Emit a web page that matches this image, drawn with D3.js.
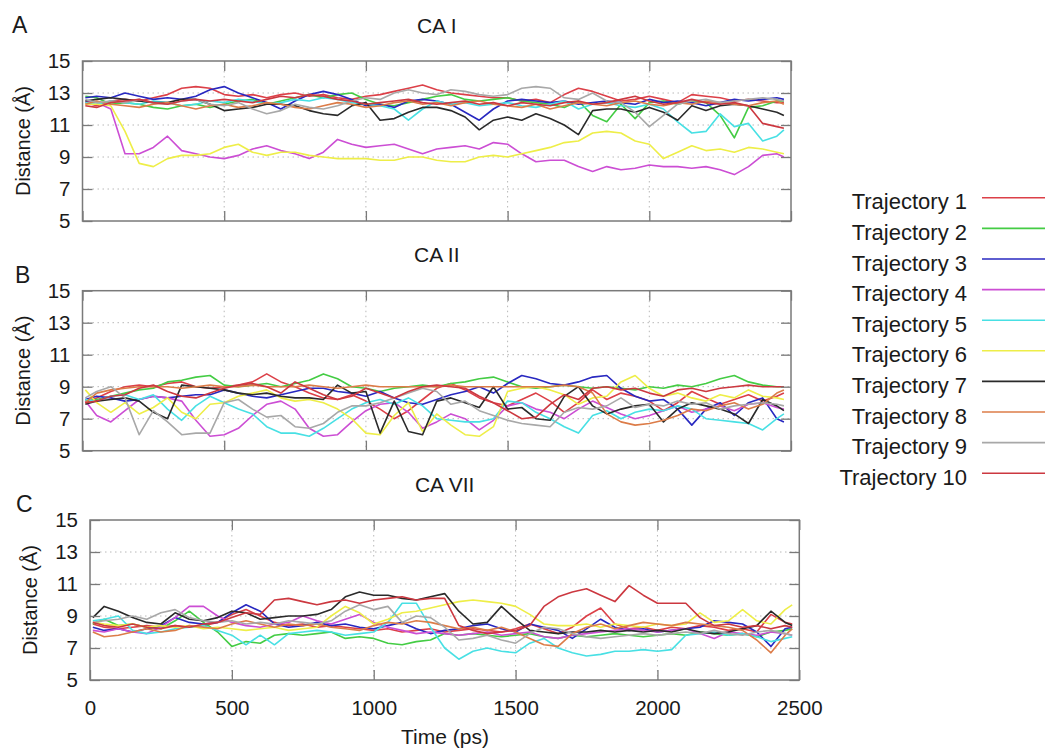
<!DOCTYPE html>
<html>
<head>
<meta charset="utf-8">
<script src="https://cdn.jsdelivr.net/npm/d3@7"></script>
<style>
  body { margin: 0; background: #fff; }
  text { font-family: "Liberation Sans", Arial, Helvetica, sans-serif; fill: #1a1a1a; }
</style>
</head>
<body>
<div id="graph-container"></div>
<script>
// Time points (ps)
var time = [10, 50, 100, 150, 200, 250, 300, 350, 400, 450,
  500, 550, 600, 650, 700, 750, 800, 850, 900, 950,
  1000, 1050, 1100, 1150, 1200, 1250, 1300, 1350, 1400, 1450,
  1500, 1550, 1600, 1650, 1700, 1750, 1800, 1850, 1900, 1950,
  2000, 2050, 2100, 2150, 2200, 2250, 2300, 2350, 2400, 2450,
  2475];

var trajectories = ["Trajectory 1", "Trajectory 2", "Trajectory 3", "Trajectory 4", "Trajectory 5",
  "Trajectory 6", "Trajectory 7", "Trajectory 8", "Trajectory 9", "Trajectory 10"];

var yTicks = [5, 7, 9, 11, 13, 15];
var xTicks = [0, 500, 1000, 1500, 2000, 2500];

// CA I distances
var caI_1 = [12.4, 12.2, 12.5, 12.6, 12.5, 12.7, 12.9, 13.3, 13.4, 13.3,
  12.9, 12.8, 12.9, 12.7, 12.9, 13.0, 12.8, 12.9, 12.7, 12.6,
  12.8, 12.9, 13.1, 13.3, 13.5, 13.2, 13.0, 12.9, 12.8, 12.7,
  12.7, 12.5, 12.6, 12.4, 12.9, 13.3, 13.1, 12.8, 12.5, 12.6,
  12.8, 12.6, 12.4, 12.9, 12.8, 12.7, 12.5, 12.6, 12.5, 12.4,
  12.4];
var caI_2 = [12.8, 12.7, 12.3, 12.4, 12.3, 12.1, 12.0, 12.2, 12.3, 12.1,
  12.3, 12.5, 12.6, 12.3, 12.5, 12.7, 12.9, 12.7, 12.9, 13.0,
  12.6, 12.3, 12.2, 12.4, 12.6, 12.8, 12.9, 12.6, 12.5, 12.6,
  12.7, 12.5, 12.4, 12.3, 12.1, 12.5, 11.6, 11.2, 12.3, 11.4,
  12.4, 12.5, 12.3, 12.5, 12.4, 11.6, 10.2, 12.1, 12.2, 12.5,
  12.5];
var caI_3 = [12.7, 12.8, 12.7, 13.0, 12.8, 12.6, 12.7, 12.6, 12.8, 13.2,
  13.4, 13.0, 12.7, 12.4, 12.0, 12.5, 12.9, 13.1, 12.9, 12.6,
  12.2, 12.3, 12.1, 12.5, 12.6, 12.5, 12.3, 11.8, 11.3, 12.0,
  12.5, 12.6, 12.5, 12.4, 12.5, 12.3, 12.4, 12.5, 12.4, 12.3,
  12.6, 12.4, 12.5, 12.4, 12.2, 12.4, 12.6, 12.5, 12.6, 12.7,
  12.6];
var caI_4 = [12.5, 12.4, 12.0, 9.2, 9.2, 9.6, 10.3, 9.4, 9.2, 9.0,
  8.9, 9.1, 9.5, 9.7, 9.4, 9.2, 8.9, 9.3, 10.1, 9.8,
  9.6, 9.7, 9.8, 9.5, 9.2, 9.5, 9.6, 9.7, 9.5, 9.9,
  9.8, 9.2, 8.7, 8.8, 8.8, 8.4, 8.1, 8.4, 8.2, 8.3,
  8.5, 8.4, 8.4, 8.3, 8.4, 8.2, 7.9, 8.4, 9.1, 9.2,
  9.0];
var caI_5 = [12.4, 12.3, 12.5, 12.4, 12.3, 12.5, 12.4, 12.2, 12.3, 12.5,
  12.4, 12.6, 12.5, 12.3, 12.4, 12.6, 12.5, 12.7, 12.6, 12.4,
  12.3, 12.2, 12.0, 11.3, 12.0, 12.5, 12.3, 12.4, 12.2, 12.3,
  12.4, 12.2, 12.1, 12.3, 12.5, 12.0, 12.3, 12.4, 12.2, 12.1,
  12.3, 12.0, 11.2, 10.5, 10.6, 11.7, 10.9, 11.1, 10.0, 10.3,
  10.7];
var caI_6 = [12.3, 12.3, 12.2, 10.6, 8.6, 8.4, 8.9, 9.1, 9.1, 9.2,
  9.6, 9.8, 9.3, 9.1, 9.3, 9.3, 9.1, 9.0, 8.9, 8.9,
  8.9, 8.8, 8.8, 9.0, 9.0, 8.8, 8.7, 8.7, 9.0, 9.1,
  9.0, 9.2, 9.4, 9.6, 9.9, 10.0, 10.5, 10.6, 10.5, 10.0,
  9.8, 8.9, 9.3, 9.7, 9.4, 9.5, 9.3, 9.6, 9.5, 9.3,
  9.2];
var caI_7 = [12.5, 12.6, 12.7, 12.6, 12.5, 12.4, 12.4, 12.6, 12.6, 12.3,
  11.9, 12.0, 12.1, 12.3, 12.3, 12.2, 11.9, 11.7, 11.6, 12.2,
  12.4, 11.3, 11.4, 11.8, 12.1, 12.1, 11.9, 11.5, 10.7, 11.3,
  11.5, 11.3, 11.7, 11.4, 11.0, 10.4, 11.9, 12.0, 12.0, 11.8,
  12.1, 11.8, 11.3, 12.2, 11.9, 12.2, 12.3, 12.2, 12.0, 11.8,
  11.6];
var caI_8 = [12.3, 12.5, 12.3, 12.2, 12.1, 12.3, 12.4, 12.2, 12.0, 12.2,
  12.3, 12.1, 12.2, 12.4, 12.3, 12.1, 12.0, 12.2, 12.4, 12.3,
  12.1, 12.2, 12.4, 12.5, 12.3, 12.4, 12.2, 12.4, 12.5, 12.3,
  12.2, 12.1, 12.3, 12.0, 12.2, 12.4, 12.3, 12.2, 12.4, 12.5,
  12.3, 12.2, 12.4, 12.3, 12.5, 12.4, 12.3, 12.2, 12.4, 12.5,
  12.3];
var caI_9 = [12.6, 12.4, 12.5, 12.4, 12.6, 12.4, 12.3, 12.5, 12.6, 12.3,
  12.2, 12.4, 12.0, 11.7, 11.9, 12.3, 12.1, 12.0, 12.2, 12.5,
  12.7, 12.6, 13.0, 13.2, 13.0, 12.9, 13.2, 13.1, 12.9, 12.8,
  12.9, 13.3, 13.4, 13.3, 12.7, 12.6, 13.0, 12.5, 12.4, 11.8,
  10.9, 11.6, 12.3, 12.5, 12.6, 12.4, 12.5, 12.6, 12.7, 12.6,
  12.5];
var caI_10 = [12.2, 12.1, 12.4, 12.5, 12.6, 12.4, 12.3, 12.5, 12.6, 12.5,
  12.6, 12.5, 12.4, 12.6, 12.8, 12.7, 12.9, 12.8, 12.6, 12.5,
  12.3, 12.4, 12.5, 12.6, 12.4, 12.3, 12.4, 12.5, 12.3, 12.4,
  12.2, 12.4, 12.3, 12.2, 12.4, 12.5, 12.3, 12.4, 12.6, 12.8,
  12.5, 12.3, 12.4, 12.6, 12.4, 12.3, 12.4, 12.2, 11.1, 10.9,
  10.8];

// CA II distances
var caII_1 = [8.0, 8.3, 8.7, 9.0, 9.1, 9.0, 9.2, 9.3, 9.0, 8.9,
  9.0, 9.1, 9.3, 9.8, 9.3, 9.0, 8.6, 8.3, 8.2, 8.5,
  8.1, 7.6, 7.0, 7.5, 8.2, 8.9, 9.2, 8.8, 8.3, 8.0,
  7.8, 8.2, 8.6, 8.1, 7.4, 8.0, 8.8, 8.2, 8.6, 8.4,
  8.1, 7.5, 8.0, 8.7, 8.3, 7.9, 8.2, 8.5, 8.1, 8.4,
  8.6];
var caII_2 = [8.1, 8.2, 8.4, 8.6, 8.8, 8.9, 9.3, 9.4, 9.6, 9.7,
  9.1, 9.0, 9.1, 9.2, 9.0, 9.2, 9.4, 9.8, 9.5, 9.0,
  8.9, 8.7, 8.9, 9.0, 9.1, 9.0, 9.2, 9.3, 9.5, 9.6,
  9.3, 9.0, 8.9, 9.0, 9.1, 9.0, 8.9, 9.0, 8.9, 8.8,
  9.0, 8.9, 9.1, 9.0, 9.2, 9.5, 9.7, 9.3, 9.1, 9.0,
  9.0];
var caII_3 = [8.2, 8.4, 8.3, 8.1, 8.2, 8.4, 8.3, 8.4, 8.5, 8.5,
  8.8, 8.6, 8.4, 8.3, 8.5, 8.7, 8.9, 8.9, 8.7, 8.6,
  8.4, 8.7, 8.3, 8.0, 7.9, 8.2, 8.5, 8.7, 9.0, 8.6,
  9.2, 9.7, 9.5, 9.2, 9.1, 9.3, 9.6, 9.7, 8.9, 8.4,
  8.1, 8.2, 7.6, 6.6, 7.6, 8.0, 7.2, 8.0, 8.3, 7.0,
  6.8];
var caII_4 = [8.1, 7.2, 6.8, 7.5, 8.2, 8.4, 8.3, 8.1, 6.9, 5.9,
  6.0, 6.4, 7.2, 7.9, 8.1, 7.6, 6.4, 5.9, 6.0, 6.8,
  7.5, 7.9, 8.0, 7.4, 6.4, 6.8, 7.3, 7.0, 6.3, 6.9,
  7.8, 8.0, 7.6, 7.4, 7.0, 7.6, 8.1, 7.7, 7.3, 7.0,
  7.2, 7.5, 7.8, 7.4, 7.6, 7.8, 7.5, 7.9, 8.0, 7.7,
  7.6];
var caII_5 = [8.2, 8.1, 8.4, 8.5, 8.2, 8.5, 7.6, 6.9, 7.8, 8.4,
  8.0, 7.6, 7.3, 6.5, 6.1, 6.1, 5.9, 6.4, 7.0, 7.6,
  8.0, 8.2, 7.9, 8.3, 7.8, 7.0, 6.9, 6.8, 6.8, 7.0,
  8.1, 8.0, 7.4, 7.0, 6.5, 6.1, 7.2, 7.5, 7.0, 7.4,
  7.6, 7.5, 7.8, 7.6, 7.0, 6.9, 6.8, 6.7, 6.3, 7.0,
  7.3];
var caII_6 = [8.8, 8.0, 7.4, 8.0, 7.3, 7.7, 8.3, 7.4, 7.0, 7.9,
  8.0, 8.4, 8.6, 8.8, 8.3, 8.1, 8.2, 8.0, 7.6, 7.0,
  6.1, 6.0, 7.2, 8.0, 6.2, 7.3, 6.6, 6.0, 5.9, 6.5,
  8.7, 8.9, 9.0, 8.8, 8.5, 7.9, 8.3, 8.4, 9.3, 9.7,
  8.9, 8.4, 8.6, 8.3, 8.1, 8.5, 8.3, 8.8, 8.4, 8.3,
  8.2];
var caII_7 = [7.9, 8.1, 8.2, 8.3, 8.1, 7.4, 7.0, 9.1, 9.0, 8.9,
  8.8, 8.6, 8.5, 8.6, 8.4, 8.3, 8.3, 8.2, 9.1, 8.6,
  8.7, 6.1, 8.1, 6.2, 6.0, 8.1, 8.3, 8.0, 7.7, 9.0,
  7.6, 7.7, 7.0, 6.9, 8.4, 9.0, 7.8, 7.3, 7.6, 7.8,
  7.9, 6.8, 7.6, 8.0, 7.8, 7.6, 7.3, 6.7, 8.2, 7.8,
  7.5];
var caII_8 = [8.0, 8.6, 8.8, 8.9, 9.0, 9.0, 9.0, 8.9, 9.0, 9.1,
  9.0, 9.0, 9.1, 9.0, 9.0, 9.0, 9.1, 9.0, 8.9, 9.0,
  9.1, 9.0, 9.0, 9.0, 9.0, 9.0, 9.1, 9.0, 9.0, 9.0,
  9.0, 9.0, 9.0, 9.0, 9.1, 9.0, 8.6, 7.3, 6.8, 6.6,
  6.7, 6.9, 7.2, 7.6, 7.5, 7.8, 8.0, 7.6, 7.9, 8.6,
  8.8];
var caII_9 = [8.3, 8.7, 9.0, 8.3, 6.0, 7.5, 6.8, 6.0, 6.1, 6.1,
  8.0, 8.2, 7.6, 7.1, 7.2, 6.5, 6.4, 6.7, 7.4, 7.8,
  7.8, 8.0, 8.3, 8.6, 8.9, 8.7, 7.9, 8.1, 7.5, 7.2,
  6.9, 6.7, 6.6, 6.5, 7.4, 7.7, 7.6, 7.8, 8.3, 7.7,
  7.9, 7.8, 8.1, 7.9, 8.0, 7.6, 7.8, 7.9, 8.0, 7.9,
  7.8];
var caII_10 = [8.0, 8.1, 8.4, 8.5, 8.9, 9.1, 8.7, 8.4, 8.3, 8.6,
  8.9, 9.1, 9.2, 9.0, 8.6, 9.3, 8.9, 8.5, 8.2, 8.4,
  8.9, 8.6, 8.3, 8.7, 9.0, 9.1, 9.0, 8.9, 8.4, 8.0,
  7.5, 7.0, 7.1, 7.9, 8.5, 8.2, 8.9, 9.0, 8.8, 8.9,
  8.6, 8.4, 8.8, 8.9, 8.7, 8.9, 9.0, 9.1, 9.0, 9.0,
  9.0];

// CA VII distances
var caVII_1 = [8.5, 8.3, 8.2, 8.3, 8.4, 8.3, 8.4, 8.3, 8.4, 8.6,
  9.1, 9.4, 9.0, 8.6, 8.4, 8.5, 8.3, 8.4, 8.3, 8.2,
  8.1, 8.2, 8.0, 8.1, 8.2, 8.0, 8.1, 8.2, 8.1, 8.0,
  8.2, 8.5, 8.2, 7.9, 8.3, 9.0, 9.5, 8.5, 8.2, 8.3,
  8.1, 8.3, 8.2, 8.4, 8.3, 8.1, 8.2, 8.0, 9.1, 8.6,
  8.5];
var caVII_2 = [8.5, 8.8, 8.4, 8.5, 8.3, 8.2, 8.7, 9.3, 8.6, 8.0,
  7.1, 7.4, 7.3, 7.8, 7.9, 7.8, 7.9, 8.0, 7.6, 7.7,
  7.6, 7.3, 7.2, 7.4, 7.5, 7.9, 7.8, 7.9, 7.8, 7.7,
  7.8, 7.9, 7.7, 7.6, 7.8, 7.7, 7.8, 7.9, 7.8, 7.7,
  7.8, 7.9, 7.8, 8.0, 7.9, 7.8, 7.9, 7.7, 8.0, 8.1,
  8.2];
var caVII_3 = [8.3, 8.1, 8.2, 8.0, 8.2, 8.4, 8.9, 8.6, 8.5, 8.6,
  9.2, 9.7, 9.3, 8.5, 8.3, 8.4, 8.6, 8.4, 8.5, 8.3,
  8.2, 8.4, 8.6, 8.2, 7.9, 8.1, 8.2, 8.4, 8.5, 8.2,
  8.0, 8.5, 8.3, 8.1, 7.6, 8.2, 8.8, 8.3, 8.1, 8.2,
  8.0, 8.1, 8.2, 8.3, 8.7, 8.6, 8.5, 8.0, 7.1, 8.2,
  8.3];
var caVII_4 = [8.1, 8.0, 8.2, 8.0, 7.9, 8.3, 8.9, 9.6, 9.6, 9.0,
  8.6, 8.4, 8.3, 8.5, 8.6, 9.0, 8.7, 8.5, 8.8, 9.1,
  8.6, 8.3, 8.1, 7.9, 8.0, 7.9, 7.8, 7.9, 8.0, 7.8,
  7.9, 8.0, 7.7, 7.6, 7.8, 7.9, 8.0, 8.1, 8.2, 8.1,
  8.0, 8.1, 8.2, 7.9, 7.6, 8.0, 7.9, 7.8, 8.0, 7.9,
  7.8];
var caVII_5 = [8.7, 8.8, 9.0, 8.1, 7.9, 8.0, 8.2, 8.3, 8.4, 8.1,
  7.8, 7.2, 7.8, 7.2, 7.9, 8.0, 8.1, 8.0, 7.8, 7.9,
  8.0, 8.6, 9.8, 9.8, 8.3, 7.0, 6.3, 6.8, 7.0, 6.8,
  6.7, 7.3, 7.6, 7.0, 6.7, 6.5, 6.6, 6.8, 6.8, 6.9,
  6.8, 6.9, 7.8, 7.9, 8.0, 7.8, 7.9, 7.7, 7.4, 7.6,
  7.7];
var caVII_6 = [8.6, 8.5, 8.4, 8.5, 8.3, 8.4, 8.3, 8.4, 8.2, 8.3,
  8.2, 8.1, 8.2, 8.3, 8.1, 8.2, 8.3, 9.0, 9.6, 9.2,
  8.5, 8.8, 9.2, 9.3, 9.5, 9.7, 9.9, 10.0, 9.9, 9.8,
  9.6, 9.1, 8.5, 8.4, 8.4, 8.5, 8.3, 8.5, 8.4, 8.3,
  8.5, 8.4, 8.5, 9.2, 8.6, 8.7, 9.4, 8.7, 8.5, 9.4,
  9.7];
var caVII_7 = [8.9, 9.6, 9.3, 8.9, 8.6, 8.5, 9.2, 8.8, 8.7, 8.9,
  9.3, 9.2, 8.8, 8.9, 9.0, 9.0, 9.1, 9.4, 10.2, 10.5,
  10.3, 10.3, 10.1, 10.0, 10.2, 10.4, 9.3, 8.5, 8.6, 9.6,
  8.8, 8.1, 8.0, 7.9, 8.0, 8.0, 8.1, 8.0, 8.1, 8.0,
  8.1, 8.0, 8.2, 8.0, 7.9, 8.0, 8.2, 8.4, 9.3, 8.6,
  8.4];
var caVII_8 = [8.0, 7.7, 7.8, 8.0, 8.2, 8.0, 8.1, 8.4, 8.3, 8.2,
  8.5, 8.7, 8.5, 8.3, 8.5, 8.4, 8.5, 8.3, 8.2, 8.1,
  8.4, 8.6, 8.5, 8.7, 8.6, 8.4, 8.2, 8.3, 8.1, 8.3,
  8.0, 7.6, 7.2, 7.1, 7.9, 8.3, 8.5, 8.2, 8.4, 8.6,
  8.5, 8.4, 8.6, 8.5, 8.4, 8.3, 8.1, 7.5, 6.7, 7.8,
  8.2];
var caVII_9 = [8.6, 8.7, 8.8, 9.0, 8.8, 9.2, 9.4, 8.9, 8.7, 8.6,
  8.7, 8.5, 8.6, 8.5, 8.7, 8.6, 8.5, 8.7, 9.3, 9.7,
  9.4, 9.6, 8.6, 9.0, 8.9, 8.3, 7.5, 7.6, 7.8, 7.5,
  7.3, 7.9, 8.3, 8.2, 7.9, 7.7, 7.6, 7.7, 7.8, 7.9,
  7.8, 7.9, 8.0, 7.9, 8.1, 7.9, 7.8, 8.0, 8.1, 7.9,
  7.8];
var caVII_10 = [8.6, 8.4, 8.3, 8.5, 8.3, 8.2, 8.4, 8.3, 8.5, 8.6,
  8.9, 9.2, 9.1, 10.0, 10.1, 9.9, 9.7, 9.9, 10.0, 9.8,
  10.0, 10.1, 10.2, 10.0, 10.1, 10.1, 8.4, 8.1, 7.9, 8.0,
  8.1, 8.4, 9.6, 10.2, 10.5, 10.7, 10.3, 9.9, 10.9, 10.3,
  9.8, 9.8, 9.8, 8.9, 8.4, 8.5, 8.3, 8.4, 8.2, 8.4,
  8.3];

// Line colours, one per trajectory
var colors = ["#dc4048", "#44cc44", "#2828c0", "#cc4ed4", "#48e0e4",
  "#eeee48", "#2a2a2a", "#dc7c48", "#a8a8a8", "#cc3840"];

// Panel layout
var panels = [
  { letter: "A", title: "CA I", series: [caI_1, caI_2, caI_3, caI_4, caI_5, caI_6, caI_7, caI_8, caI_9, caI_10],
    left: 82.5, top: 61, width: 708.5, letterX: 12, letterY: 33, xLabels: false },
  { letter: "B", title: "CA II", series: [caII_1, caII_2, caII_3, caII_4, caII_5, caII_6, caII_7, caII_8, caII_9, caII_10],
    left: 82.5, top: 290.7, width: 708.5, letterX: 15, letterY: 283, xLabels: false },
  { letter: "C", title: "CA VII", series: [caVII_1, caVII_2, caVII_3, caVII_4, caVII_5, caVII_6, caVII_7, caVII_8, caVII_9, caVII_10],
    left: 90, top: 520, width: 709.3, letterX: 16, letterY: 512, xLabels: true }
];
var panelHeight = 160;

var svg = d3.select("#graph-container")
  .append("svg")
  .attr("width", 1045)
  .attr("height", 751);

var frameColor = "#7a7a7a";

panels.forEach(function (p) {
  var x = d3.scaleLinear().domain([0, 2500]).range([0, p.width]);
  var y = d3.scaleLinear().domain([5, 15]).range([panelHeight, 0]);

  var g = svg.append("g")
    .attr("transform", "translate(" + p.left + "," + p.top + ")");

  // dotted grid
  g.append("g").selectAll("line")
    .data(yTicks.slice(1, -1))
    .join("line")
    .attr("x1", 0).attr("x2", p.width)
    .attr("y1", function (d) { return y(d); })
    .attr("y2", function (d) { return y(d); })
    .attr("stroke", "#b8b8b8")
    .attr("stroke-width", 1)
    .attr("stroke-dasharray", "1.5,3.5");
  g.append("g").selectAll("line")
    .data(xTicks.slice(1, -1))
    .join("line")
    .attr("y1", 0).attr("y2", panelHeight)
    .attr("x1", function (d) { return x(d); })
    .attr("x2", function (d) { return x(d); })
    .attr("stroke", "#b8b8b8")
    .attr("stroke-width", 1)
    .attr("stroke-dasharray", "1.5,3.5");

  // trajectories
  var line = d3.line()
    .x(function (d, i) { return x(time[i]); })
    .y(function (d) { return y(d); });
  p.series.forEach(function (s, i) {
    g.append("path")
      .datum(s)
      .attr("fill", "none")
      .attr("stroke", colors[i])
      .attr("stroke-width", 1.6)
      .attr("stroke-linejoin", "round")
      .attr("d", line);
  });

  // axes with inward ticks on all four sides
  function styleAxis(sel) {
    sel.select(".domain").remove();
    sel.selectAll(".tick line").attr("stroke", frameColor).attr("stroke-width", 1.3);
    sel.selectAll("text")
      .attr("font-family", "Liberation Sans, Arial, sans-serif")
      .style("font-size", "20.5px")
      .attr("fill", "#1a1a1a");
  }

  g.append("g")
    .call(d3.axisLeft(y).tickValues(yTicks).tickSize(-10).tickSizeOuter(0).tickPadding(12).tickFormat(d3.format("d")))
    .call(styleAxis);
  g.append("g")
    .attr("transform", "translate(" + p.width + ",0)")
    .call(d3.axisRight(y).tickValues(yTicks).tickSize(-10).tickSizeOuter(0).tickFormat(""))
    .call(styleAxis);
  g.append("g")
    .call(d3.axisTop(x).tickValues(xTicks).tickSize(-10).tickSizeOuter(0).tickFormat(""))
    .call(styleAxis);
  var bottom = d3.axisBottom(x).tickValues(xTicks).tickSize(-10).tickSizeOuter(0).tickPadding(20)
    .tickFormat(p.xLabels ? d3.format("d") : "");
  g.append("g")
    .attr("transform", "translate(0," + panelHeight + ")")
    .call(bottom)
    .call(styleAxis);

  // frame
  g.append("rect")
    .attr("width", p.width)
    .attr("height", panelHeight)
    .attr("fill", "none")
    .attr("stroke", frameColor)
    .attr("stroke-width", 1.5);

  // title
  g.append("text")
    .attr("x", p.width / 2)
    .attr("y", -28.5)
    .attr("text-anchor", "middle")
    .style("font-size", "21px")
    .text(p.title);

  // y label
  g.append("text")
    .attr("transform", "translate(-60," + panelHeight / 2 + ") rotate(-90)")
    .attr("text-anchor", "middle")
    .attr("dy", "0.35em")
    .style("font-size", "20px")
    .text("Distance (Å)");

  // panel letter
  svg.append("text")
    .attr("x", p.letterX)
    .attr("y", p.letterY)
    .style("font-size", "23px")
    .text(p.letter);
});

// x-axis title
svg.append("text")
  .attr("x", 445)
  .attr("y", 744)
  .attr("text-anchor", "middle")
  .style("font-size", "21px")
  .text("Time (ps)");

// legend
var legend = svg.append("g");
trajectories.forEach(function (name, i) {
  var ly = 197.8 + i * 30.6;
  legend.append("text")
    .attr("x", 967)
    .attr("y", ly + 11.5)
    .attr("text-anchor", "end")
    .style("font-size", "22px")
    .text(name);
  legend.append("line")
    .attr("x1", 982).attr("x2", 1045)
    .attr("y1", ly).attr("y2", ly)
    .attr("stroke", colors[i])
    .attr("stroke-width", 1.6);
});
</script>
</body>
</html>
